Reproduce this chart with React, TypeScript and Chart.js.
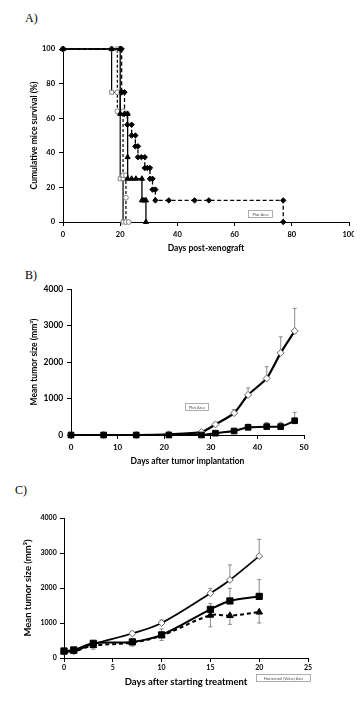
import React, { useEffect, useRef } from 'react';
import { Chart, registerables } from 'chart.js';

Chart.register(...registerables);

const FONT = 'Lato, "Open Sans", sans-serif';

// ---------- Panel A: cumulative survival (Kaplan–Meier) ----------
const aDiaDays = [0, 20, 20.5, 20.5, 21.5, 21.5, 22.5, 22.5, 24, 24, 25.3, 25.3, 26.2, 26.2, 27.4, 28.6, 28.6, 29.5, 30.4, 30.4, 31.3, 31.3, 32.3, 32.3, 37, 46, 51, 77, 77];
const aDiaSurv = [100, 100, 100, 75, 75, 62.5, 62.5, 56.25, 56.25, 50, 50, 43.75, 43.75, 37.5, 37.5, 37.5, 31.25, 31.25, 31.25, 25, 25, 18.75, 18.75, 12.5, 12.5, 12.5, 12.5, 12.5, 0];
const aTriDays = [0, 17, 20, 20, 22.6, 22.6, 22.6, 24, 25.5, 27.6, 27.6, 28.3, 29, 29];
const aTriSurv = [100, 100, 100, 62.5, 62.5, 37.5, 25, 25, 25, 25, 12.5, 12.5, 12.5, 0];
const aCircDays = [0, 19, 19, 19, 21, 21, 22, 22, 22, 23];
const aCircSurv = [100, 100, 75, 64, 64, 27, 27, 14, 0, 0];
const aSqDays = [0, 17, 17, 20, 20, 21, 21];
const aSqSurv = [100, 100, 75, 75, 25, 25, 0];

// ---------- Panel B: tumour growth after implantation ----------
const bDays = [0, 7, 14, 21, 28, 31, 35, 38, 42, 45, 48];
const bOpenMean = [0, 0, 0, 20, 80, 290, 600, 1100, 1550, 2250, 2850];
const bOpenErr = [0, 0, 0, 0, 20, 40, 100, 190, 320, 440, 620];
const bSqMean = [0, 0, 0, 0, 0, 50, 110, 210, 230, 230, 390];
const bSqErr = [0, 0, 0, 0, 0, 20, 30, 90, 110, 120, 230];

// ---------- Panel C: tumour growth after treatment ----------
const cDays = [0, 1, 3, 7, 10, 15, 17, 20];
const cOpenMean = [180, 190, 400, 700, 1000, 1850, 2230, 2910];
const cOpenErrUp = [0, 20, 40, 60, 90, 140, 430, 480];
const cSqMean = [200, 230, 420, 460, 660, 1390, 1630, 1760];
const cSqErrUp = [30, 40, 60, 60, 170, 170, 360, 480];
const cTriMean = [170, 190, 350, 440, 640, 1220, 1210, 1310];
const cTriErrDown = [30, 40, 100, 100, 140, 330, 250, 310];

const pts = (xs: number[], ys: number[]) => xs.map((x, i) => ({ x, y: ys[i] }));

type ErrSpec = { ds: number; up?: number[]; down?: number[] };

const errorBarPlugin = {
  id: 'errbars',
  beforeDatasetsDraw(chart: any, _a: any, opts: any) {
    const specs: ErrSpec[] = (opts && opts.specs) || [];
    const { ctx } = chart;
    const xs = chart.scales.x;
    const ys = chart.scales.y;
    ctx.save();
    ctx.strokeStyle = '#6e6e6e';
    ctx.lineWidth = 0.8;
    for (const s of specs) {
      const data = chart.data.datasets[s.ds].data as { x: number; y: number }[];
      data.forEach((p, i) => {
        const px = xs.getPixelForValue(p.x);
        const py = ys.getPixelForValue(p.y);
        const pairs: [number[] | undefined, number][] = [[s.up, 1], [s.down, -1]];
        for (const [arr, sign] of pairs) {
          const e = arr ? arr[i] : 0;
          if (!e) continue;
          const ey = ys.getPixelForValue(p.y + sign * e);
          ctx.beginPath();
          ctx.moveTo(px, py);
          ctx.lineTo(px, ey);
          ctx.moveTo(px - 2, ey);
          ctx.lineTo(px + 2, ey);
          ctx.stroke();
        }
      });
    }
    ctx.restore();
  },
};

const noteBoxPlugin = {
  id: 'notebox',
  afterDraw(chart: any, _a: any, opts: any) {
    if (!opts || !opts.text) return;
    const { ctx } = chart;
    ctx.save();
    ctx.fillStyle = '#fff';
    ctx.strokeStyle = '#9a9a9a';
    ctx.lineWidth = 0.8;
    ctx.fillRect(opts.x, opts.y, opts.w, opts.h);
    ctx.strokeRect(opts.x + 0.5, opts.y + 0.5, opts.w - 1, opts.h - 1);
    ctx.fillStyle = '#555';
    ctx.font = `4px ${FONT}`;
    ctx.textAlign = 'center';
    ctx.textBaseline = 'middle';
    ctx.fillText(opts.text, opts.x + opts.w / 2, opts.y + opts.h / 2 + 0.5);
    ctx.restore();
  },
};

type Axis = {
  min: number; max: number; step: number; tickSize: number; tickPad: number;
  title: string; titleSize: number; titlePad: number; size: number;
};

function axisCfg(a: Axis, horizontal: boolean) {
  return {
    type: 'linear',
    position: horizontal ? 'bottom' : 'left',
    min: a.min,
    max: a.max,
    border: { display: true, color: '#000', width: 1 },
    grid: { display: true, drawOnChartArea: false, drawTicks: true, tickLength: 4, color: '#000', lineWidth: 1 },
    ticks: {
      stepSize: a.step, autoSkip: false, maxRotation: 0, padding: a.tickPad, color: '#000',
      font: { family: FONT, size: a.tickSize, weight: 'bold' },
      callback: (v: any) => String(v),
    },
    title: {
      display: true, text: a.title, color: '#000',
      font: { family: FONT, size: a.titleSize, weight: 'bold' },
      padding: horizontal ? { top: 0, bottom: a.titlePad } : { top: a.titlePad, bottom: 0 },
    },
    afterFit: (s: any) => {
      if (horizontal) { s.height = a.size; s.paddingLeft = 0; s.paddingRight = 0; }
      else { s.width = a.size; s.paddingTop = 0; s.paddingBottom = 0; }
    },
  };
}

type PanelProps = {
  top: number; height: number; width: number;
  padTop: number; padRight: number;
  x: Axis; y: Axis;
  datasets: any[];
  errs?: ErrSpec[];
  note?: { x: number; y: number; w: number; h: number; text: string };
};

function Panel(p: PanelProps) {
  const ref = useRef<HTMLCanvasElement>(null);
  useEffect(() => {
    const chart = new Chart(ref.current as HTMLCanvasElement, {
      type: 'line',
      data: { datasets: p.datasets },
      options: {
        responsive: false,
        animation: false,
        devicePixelRatio: 1,
        layout: { padding: { top: p.padTop, right: p.padRight, left: 0, bottom: 0 } },
        plugins: {
          legend: { display: false },
          tooltip: { enabled: false },
          errbars: { specs: p.errs || [] },
          notebox: p.note || {},
        },
        scales: { x: axisCfg(p.x, true), y: axisCfg(p.y, false) },
      } as any,
      plugins: [errorBarPlugin, noteBoxPlugin],
    } as any);
    return () => chart.destroy();
  }, []);
  return (
    <canvas
      ref={ref}
      width={p.width}
      height={p.height}
      style={{ position: 'absolute', left: 0, top: p.top, width: p.width, height: p.height }}
    />
  );
}

const base = { borderColor: '#000', fill: false, clip: false };

const panelA = [
  { ...base, data: pts(aDiaDays, aDiaSurv), borderWidth: 1.3, borderDash: [4, 2.5], pointStyle: 'rectRot', pointRadius: 2.7, pointBackgroundColor: '#000', pointBorderColor: '#000', pointBorderWidth: 1 },
  { ...base, data: pts(aTriDays, aTriSurv), borderWidth: 1.3, pointStyle: 'triangle', pointRadius: 3, pointBackgroundColor: '#000', pointBorderColor: '#000', pointBorderWidth: 1 },
  { ...base, data: pts(aCircDays, aCircSurv), borderWidth: 1.2, borderDash: [3, 2], pointStyle: 'circle', pointRadius: 2.4, pointBackgroundColor: '#fff', pointBorderColor: '#777', pointBorderWidth: 0.9 },
  { ...base, data: pts(aSqDays, aSqSurv), borderWidth: 1.2, pointStyle: 'rect', pointRadius: 2.8, pointBackgroundColor: '#fff', pointBorderColor: '#777', pointBorderWidth: 0.9 },
];

const panelB = [
  { ...base, data: pts(bDays, bSqMean), borderWidth: 2, tension: 0.2, pointStyle: 'rect', pointRadius: 4, pointBackgroundColor: '#000', pointBorderColor: '#000', pointBorderWidth: 1 },
  { ...base, data: pts(bDays, bOpenMean), borderWidth: 2.2, tension: 0.2, pointStyle: 'rectRot', pointRadius: 3.5, pointBackgroundColor: '#fff', pointBorderColor: '#555', pointBorderWidth: 0.9 },
];

const panelC = [
  { ...base, data: pts(cDays, cSqMean), borderWidth: 2, tension: 0.35, pointStyle: 'rect', pointRadius: 4.4, pointBackgroundColor: '#000', pointBorderColor: '#000', pointBorderWidth: 1 },
  { ...base, data: pts(cDays, cTriMean), borderWidth: 2, borderDash: [4, 3], tension: 0.35, pointStyle: 'triangle', pointRadius: 3.8, pointBackgroundColor: '#000', pointBorderColor: '#000', pointBorderWidth: 1 },
  { ...base, data: pts(cDays, cOpenMean), borderWidth: 1.7, tension: 0.35, pointStyle: 'rectRot', pointRadius: 3.4, pointBackgroundColor: '#fff', pointBorderColor: '#555', pointBorderWidth: 0.9 },
];

const labelStyle = (left: number, top: number): React.CSSProperties => ({
  position: 'absolute', left, top, fontFamily: '"Liberation Serif", "Times New Roman", serif',
  fontSize: 12, lineHeight: '12px', color: '#000',
});

export default function App() {
  return (
    <div style={{ position: 'fixed', left: 0, top: 0, width: 364, height: 706, background: '#fff', overflow: 'hidden' }}>
      <div style={labelStyle(25, 12)}>A)</div>
      <div style={labelStyle(25, 269)}>B)</div>
      <div style={labelStyle(15, 484)}>C)</div>

      <Panel
        top={30} height={232} width={354} padTop={19} padRight={2}
        x={{ min: 0, max: 100, step: 20, tickSize: 7.5, tickPad: 4, title: 'Days post-xenograft', titleSize: 8.5, titlePad: 8.9, size: 40 }}
        y={{ min: 0, max: 100, step: 20, tickSize: 7.5, tickPad: 4, title: 'Cumulative mice survival (%)', titleSize: 8.5, titlePad: 28.9, size: 63 }}
        datasets={panelA}
        note={{ x: 248, y: 180, w: 25, h: 8, text: 'Plot Area' }}
      />

      <Panel
        top={270} height={200} width={364} padTop={19} padRight={60}
        x={{ min: 0, max: 50, step: 10, tickSize: 8, tickPad: 4, title: 'Days after tumor implantation', titleSize: 8.5, titlePad: 3.9, size: 35 }}
        y={{ min: 0, max: 4000, step: 1000, tickSize: 8.5, tickPad: 3.7, title: 'Mean tumor size (mm³)', titleSize: 8.5, titlePad: 28.9, size: 71 }}
        datasets={panelB}
        errs={[{ ds: 0, up: bSqErr }, { ds: 1, up: bOpenErr }]}
        note={{ x: 185, y: 133, w: 24, h: 8, text: 'Plot Area' }}
      />

      <Panel
        top={505} height={195} width={364} padTop={13} padRight={56}
        x={{ min: 0, max: 25, step: 5, tickSize: 7, tickPad: 1.5, title: 'Days after starting treatment', titleSize: 9.5, titlePad: 12.3, size: 42 }}
        y={{ min: 0, max: 4000, step: 1000, tickSize: 7, tickPad: 3.3, title: 'Mean tumor size (mm³)', titleSize: 9.5, titlePad: 22.3, size: 64 }}
        datasets={panelC}
        errs={[{ ds: 0, up: cSqErrUp }, { ds: 1, down: cTriErrDown }, { ds: 2, up: cOpenErrUp }]}
        note={{ x: 256, y: 169, w: 55, h: 8, text: 'Horizontal (Value) Axis' }}
      />
    </div>
  );
}
